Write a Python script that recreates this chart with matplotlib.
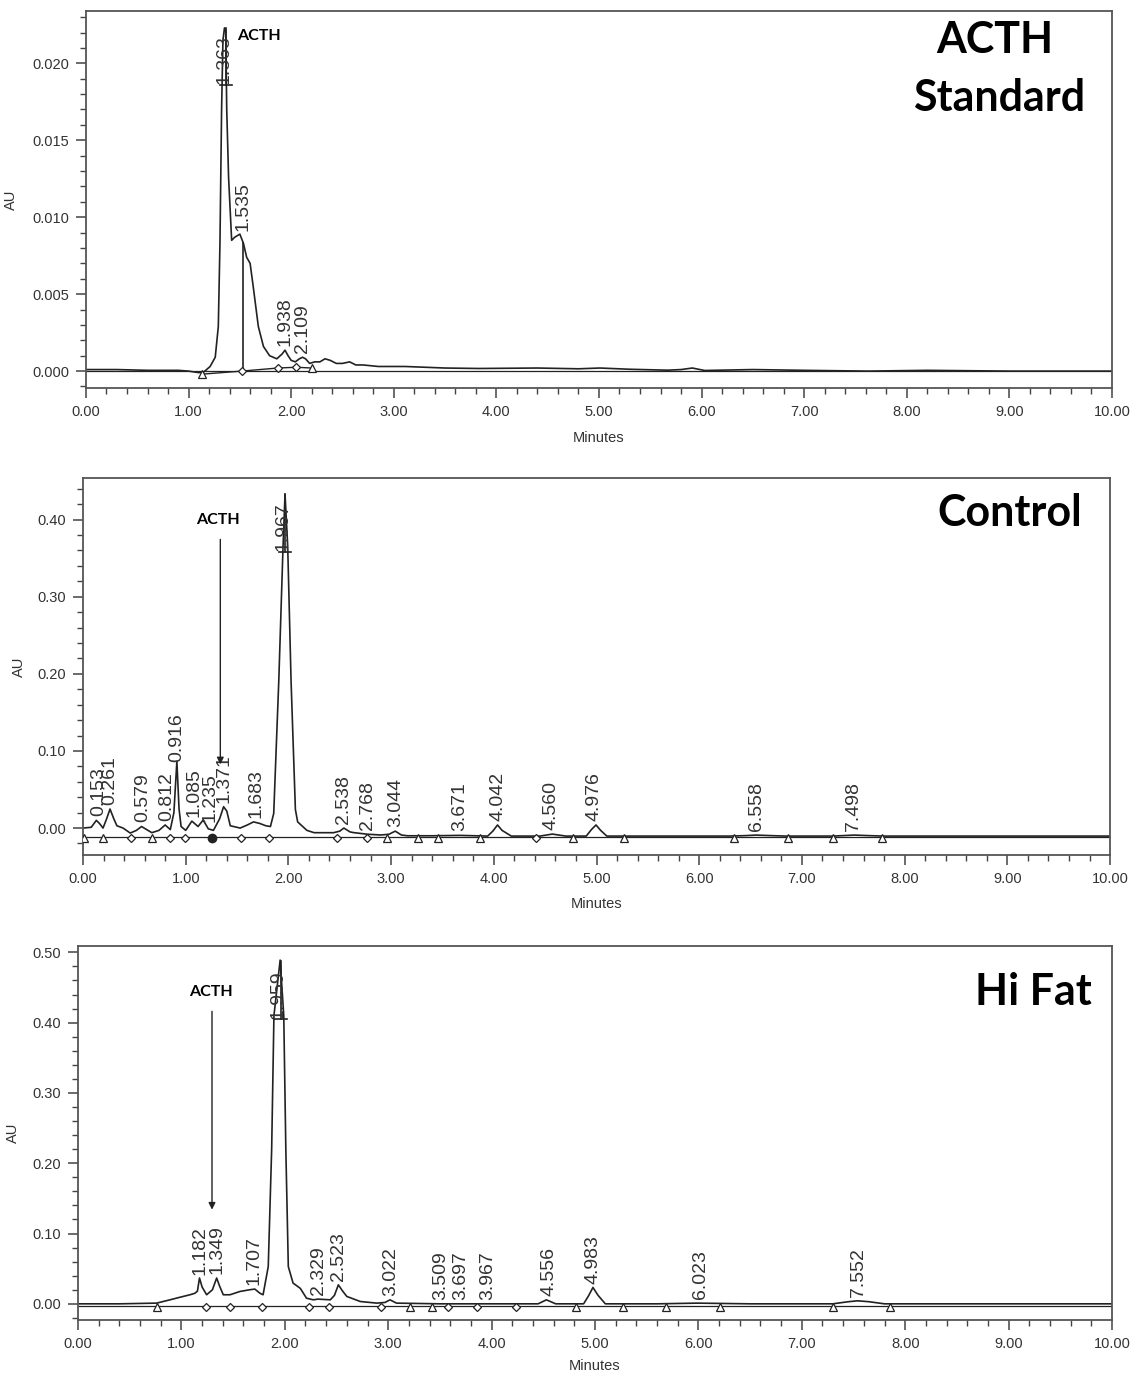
import matplotlib.pyplot as plt
import numpy as np
from matplotlib import transforms
from matplotlib.ticker import FormatStrFormatter, MultipleLocator

# ACTH standard trace (minutes, AU)
std_time = [0.00, 0.30, 0.60, 0.90, 1.00, 1.10, 1.15, 1.21, 1.26, 1.29, 1.306, 1.322,
            1.335, 1.350, 1.362, 1.372, 1.39, 1.42, 1.45, 1.50, 1.535, 1.566, 1.60,
            1.63, 1.68, 1.73, 1.79, 1.86, 1.91, 1.94, 1.97, 2.00, 2.04, 2.08, 2.11,
            2.14, 2.18, 2.23, 2.28, 2.33, 2.38, 2.44, 2.50, 2.57, 2.63, 2.70, 2.85,
            3.11, 3.50, 3.83, 4.40, 4.80, 5.01, 5.30, 5.67, 5.80, 5.91, 6.03, 6.50,
            7.00, 7.62, 8.20, 9.00, 10.0]
std_au = [0.0001, 0.0001, 0.00005, 0.00005, 0.0, -0.0001, -0.00005, 0.0003, 0.0009,
          0.0029, 0.0083, 0.0170, 0.0215, 0.0223, 0.0222, 0.0170, 0.0126, 0.0085,
          0.0087, 0.0089, 0.0083, 0.0074, 0.0070, 0.0055, 0.0029, 0.0016, 0.0010,
          0.0008, 0.0011, 0.00136, 0.0010, 0.0007, 0.0006, 0.0008, 0.0009, 0.0008,
          0.0005, 0.0006, 0.0006, 0.0008, 0.0007, 0.0005, 0.0005, 0.0006, 0.0004,
          0.0004, 0.0003, 0.0003, 0.0002, 0.00017, 0.0002, 0.00015, 0.0002, 0.00012,
          0.00006, 0.0001, 0.0002, 0.00004, 0.0001, 0.00005, 0.0, 0.00005, 0.0, 0.0]
std_peaks = ["1.363", "1.535", "1.938", "2.109"]
std_mark_time = [1.128, 1.517, 1.87, 2.05, 2.20]
std_mark_au = [-0.0002, 0.0, 0.0002, 0.00025, 0.0002]
std_mark_kind = ["start", "drop", "drop", "drop", "start"]
std_drop = [1.535]

# Control trace
ctrl_time = [0.00, 0.08, 0.13, 0.16, 0.195, 0.23, 0.263, 0.30, 0.33, 0.39, 0.46, 0.52,
             0.57, 0.62, 0.67, 0.74, 0.80, 0.85, 0.885, 0.914, 0.935, 0.955, 1.00,
             1.06, 1.12, 1.17, 1.22, 1.27, 1.33, 1.369, 1.40, 1.434, 1.53, 1.60, 1.66,
             1.72, 1.78, 1.825, 1.857, 1.906, 1.948, 1.967, 1.993, 2.026, 2.068, 2.09,
             2.18, 2.25, 2.44, 2.50, 2.54, 2.60, 2.64, 2.77, 2.90, 2.98, 3.04, 3.10,
             3.16, 3.40, 3.67, 3.94, 3.99, 4.036, 4.08, 4.17, 4.45, 4.57, 4.70, 4.90,
             4.95, 4.995, 5.04, 5.10, 5.50, 6.30, 6.45, 6.556, 6.70, 6.85, 7.30, 7.40,
             7.51, 7.65, 7.80, 8.50, 9.20, 10.0]
ctrl_au = [0.000, 0.001, 0.010, 0.006, 0.000, 0.012, 0.0247, 0.012, 0.003, 0.000,
           -0.0065, -0.003, 0.002, -0.002, -0.006, -0.003, 0.004, -0.002, 0.020,
           0.0866, 0.025, 0.002, -0.003, 0.009, 0.002, 0.0104, -0.001, -0.003, 0.012,
           0.0277, 0.022, 0.003, 0.000, 0.004, 0.008, 0.006, 0.003, 0.002, 0.019,
           0.190, 0.366, 0.433, 0.366, 0.190, 0.024, 0.008, -0.003, -0.006, -0.006,
           -0.004, 0.000, -0.005, -0.006, -0.008, -0.009, -0.008, -0.004, -0.009,
           -0.010, -0.010, -0.0095, -0.0104, -0.004, 0.004, -0.003, -0.0104, -0.0104,
           -0.0078, -0.0104, -0.0104, -0.002, 0.004, -0.003, -0.0104, -0.0104,
           -0.0104, -0.0098, -0.0091, -0.0098, -0.0104, -0.0104, -0.0098, -0.0091,
           -0.0098, -0.0104, -0.0104, -0.0104, -0.0104]
ctrl_peaks = ["0.153", "0.261", "0.579", "0.812", "0.916", "1.085", "1.235", "1.371",
              "1.683", "1.967", "2.538", "2.768", "3.044", "3.671", "4.042", "4.560",
              "4.976", "6.558", "7.498"]
ctrl_mark_time = [0.01, 0.19, 0.465, 0.67, 0.85, 0.995, 1.255, 1.54, 1.81, 2.47, 2.77,
                  2.96, 3.26, 3.46, 3.87, 4.41, 4.77, 5.27, 6.34, 6.86, 7.30, 7.78]
ctrl_mark_kind = ["start", "start", "drop", "start", "drop", "drop", "both", "drop",
                  "drop", "drop", "drop", "start", "start", "start", "start", "drop",
                  "start", "start", "start", "start", "start", "start"]

# Hi Fat trace
hf_time = [0.00, 0.40, 0.76, 0.89, 0.99, 1.083, 1.13, 1.155, 1.175, 1.20, 1.244, 1.30,
           1.341, 1.37, 1.405, 1.47, 1.567, 1.66, 1.71, 1.76, 1.79, 1.84, 1.873, 1.895,
           1.955, 1.99, 2.01, 2.034, 2.08, 2.15, 2.21, 2.276, 2.32, 2.44, 2.48, 2.518,
           2.56, 2.60, 2.73, 2.89, 2.97, 3.017, 3.08, 3.50, 4.00, 4.45, 4.53, 4.62,
           4.89, 4.94, 4.98, 5.03, 5.10, 5.60, 5.99, 6.50, 7.30, 7.45, 7.54, 7.65,
           7.80, 8.50, 10.0]
hf_au = [0.000, 0.000, 0.001, 0.0057, 0.0095, 0.0129, 0.015, 0.018, 0.0367, 0.024,
         0.0129, 0.020, 0.0367, 0.025, 0.0129, 0.0129, 0.0176, 0.020, 0.021, 0.015,
         0.0129, 0.053, 0.22, 0.41, 0.489, 0.41, 0.22, 0.053, 0.0295, 0.022, 0.008,
         0.0057, 0.0067, 0.0057, 0.012, 0.027, 0.018, 0.0105, 0.0033, 0.001, 0.002,
         0.0057, 0.001, 0.0, 0.0, 0.0, 0.0057, 0.0, 0.0, 0.012, 0.0233, 0.012, 0.0,
         0.0, 0.001, 0.0, 0.0, 0.003, 0.0043, 0.003, 0.0, 0.0, 0.0]
hf_peaks = ["1.182", "1.349", "1.707", "1.959", "2.329", "2.523", "3.022", "3.509",
            "3.697", "3.967", "4.556", "4.983", "6.023", "7.552"]
hf_mark_time = [0.76, 1.24, 1.47, 1.776, 2.234, 2.43, 2.93, 3.21, 3.42, 3.58, 3.86,
                4.24, 4.82, 5.27, 5.69, 6.21, 7.30, 7.85]
hf_mark_kind = ["start", "drop", "drop", "drop", "drop", "drop", "drop", "start",
                "start", "drop", "drop", "drop", "start", "start", "start", "start",
                "start", "start"]

INK = "#222222"
TXT = "#333333"
LABEL_FONT = ["Liberation Sans", "DejaVu Sans"]
TITLE_FONT = ["Lato", "DejaVu Sans"]


def style_axes(ax, ylim, ymajor, yminor, yfmt):
    ax.set_xlim(0, 10)
    ax.set_ylim(*ylim)
    ax.xaxis.set_major_locator(MultipleLocator(1.0))
    ax.xaxis.set_minor_locator(MultipleLocator(0.2))
    ax.yaxis.set_major_locator(MultipleLocator(ymajor))
    ax.yaxis.set_minor_locator(MultipleLocator(yminor))
    ax.xaxis.set_major_formatter(FormatStrFormatter("%.2f"))
    ax.yaxis.set_major_formatter(FormatStrFormatter(yfmt))
    ax.tick_params(which="major", length=7, width=1.1, color="#444444",
                   labelsize=10.5, labelcolor=TXT, pad=5)
    ax.tick_params(which="minor", length=4, width=1.0, color="#444444")
    for lab in ax.get_xticklabels() + ax.get_yticklabels():
        lab.set_family(LABEL_FONT)
    for sp in ax.spines.values():
        sp.set_color("#555555")
        sp.set_linewidth(1.3)
    ax.set_xlabel("Minutes", fontsize=10.5, color=TXT, family=LABEL_FONT)
    ax.set_ylabel("AU", fontsize=10.5, color=TXT, family=LABEL_FONT)
    ax.xaxis.set_label_coords(0.5, -0.115)
    ax.yaxis.set_label_coords(-0.062, 0.5)


def draw_markers(ax, times, levels, kinds):
    for t, y, k in zip(times, levels, kinds):
        if k == "start":
            ax.plot(t, y, marker="^", ms=5.5, mfc="white", mec=INK, mew=0.9, zorder=4)
        elif k == "drop":
            ax.plot(t, y, marker="D", ms=4, mfc="white", mec=INK, mew=0.9, zorder=4)
        else:
            ax.plot(t, y, marker="o", ms=6, mfc=INK, mec=INK, zorder=4)


def draw_peak_labels(ax, time, au, peaks):
    ymin, ymax = ax.get_ylim()
    blend = transforms.blended_transform_factory(ax.transData, ax.transAxes)
    for p in peaks:
        rt = float(p)
        apex = max(np.interp(np.linspace(rt - 0.03, rt + 0.03, 13), time, au))
        frac = (apex - ymin) / (ymax - ymin)
        if frac > 0.84:
            ax.text(rt - 0.02, 0.935, p, transform=blend, rotation=90, ha="center",
                    va="top", fontsize=14, color=TXT, family=LABEL_FONT)
            ax.plot([rt, rt], [frac, 0.805], transform=blend, color=INK, lw=1.2)
            ax.plot([rt - 0.06, rt + 0.06], [0.805, 0.805], transform=blend,
                    color=INK, lw=1.2)
        else:
            ax.annotate(p, xy=(rt, apex), xytext=(0, 3), textcoords="offset points",
                        rotation=90, ha="center", va="bottom", fontsize=14,
                        color=TXT, family=LABEL_FONT)


fig = plt.figure(figsize=(11.37, 13.76), dpi=100)

# --- ACTH standard ---
ax1 = fig.add_axes([0.0756, 0.718, 0.9024, 0.274])
style_axes(ax1, (-0.0011, 0.0234), 0.005, 0.001, "%.3f")
ax1.yaxis.set_label_coords(-0.066, 0.5)
ax1.axhline(0.0, color=INK, lw=0.9)
ax1.plot(std_time, std_au, color=INK, lw=1.2)
ax1.plot(std_mark_time, std_mark_au, color=INK, lw=1.0)
for t in std_drop:
    ax1.plot([t, t], [np.interp(t, std_mark_time, std_mark_au),
                      np.interp(t, std_time, std_au)], color=INK, lw=1.2)
draw_markers(ax1, std_mark_time, std_mark_au, std_mark_kind)
draw_peak_labels(ax1, std_time, std_au, std_peaks)
ax1.text(1.47, 0.0218, "ACTH", fontsize=11.5, fontweight="bold", va="center",
         family=TITLE_FONT)
ax1.text(0.886, 0.923, "ACTH", transform=ax1.transAxes, ha="center", va="center",
         fontsize=31, fontweight="bold", family=TITLE_FONT)
ax1.text(0.890, 0.769, "Standard", transform=ax1.transAxes, ha="center",
         va="center", fontsize=31, fontweight="bold", family=TITLE_FONT)

# --- Control ---
ax2 = fig.add_axes([0.073, 0.3786, 0.9033, 0.274])
style_axes(ax2, (-0.035, 0.454), 0.1, 0.02, "%.2f")
ax2.yaxis.set_label_coords(-0.056, 0.5)
ax2.xaxis.set_label_coords(0.5, -0.11)
ax2.axhline(-0.012, color=INK, lw=0.9)
ax2.plot(ctrl_time, ctrl_au, color=INK, lw=1.2)
draw_markers(ax2, ctrl_mark_time, [-0.013] * len(ctrl_mark_time), ctrl_mark_kind)
draw_peak_labels(ax2, ctrl_time, ctrl_au, ctrl_peaks)
ax2.text(1.317, 0.399, "ACTH", fontsize=11.5, fontweight="bold", ha="center",
         va="center", family=TITLE_FONT)
ax2.annotate("", xy=(1.337, 0.079), xytext=(1.337, 0.378),
             arrowprops=dict(arrowstyle="-|>", color=INK, lw=1.0, mutation_scale=10))
ax2.text(0.902, 0.907, "Control", transform=ax2.transAxes, ha="center",
         va="center", fontsize=31, fontweight="bold", family=TITLE_FONT)

# --- Hi Fat ---
ax3 = fig.add_axes([0.0686, 0.0407, 0.9094, 0.2718])
style_axes(ax3, (-0.023, 0.509), 0.1, 0.02, "%.2f")
ax3.yaxis.set_label_coords(-0.056, 0.5)
ax3.xaxis.set_label_coords(0.5, -0.105)
ax3.axhline(-0.003, color=INK, lw=0.9)
ax3.plot(hf_time, hf_au, color=INK, lw=1.2)
draw_markers(ax3, hf_mark_time, [-0.004] * len(hf_mark_time), hf_mark_kind)
draw_peak_labels(ax3, hf_time, hf_au, hf_peaks)
ax3.text(1.286, 0.444, "ACTH", fontsize=11.5, fontweight="bold", ha="center",
         va="center", family=TITLE_FONT)
ax3.annotate("", xy=(1.296, 0.13), xytext=(1.296, 0.42),
             arrowprops=dict(arrowstyle="-|>", color=INK, lw=1.0, mutation_scale=10))
ax3.text(0.924, 0.877, "Hi Fat", transform=ax3.transAxes, ha="center",
         va="center", fontsize=31, fontweight="bold", family=TITLE_FONT)

fig.savefig("out.png", dpi=100)
